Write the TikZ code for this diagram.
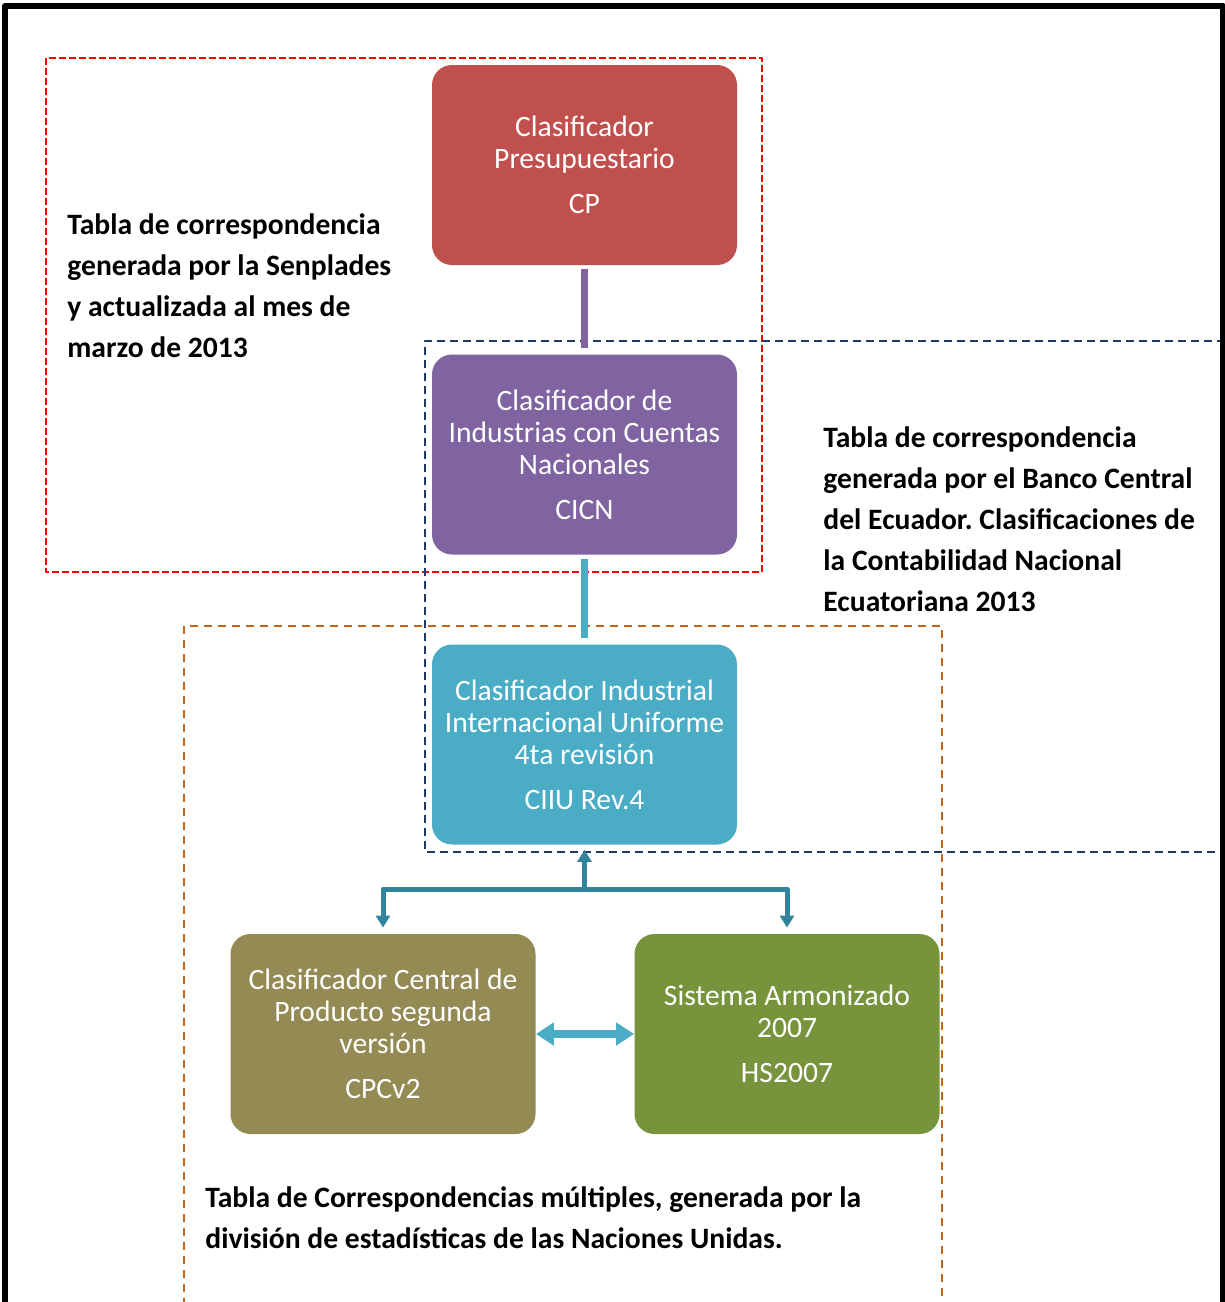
\documentclass[tikz,border=0pt]{standalone}
\usepackage{fontspec}
\setmainfont{Carlito}
\frenchspacing
\usetikzlibrary{arrows.meta}
\definecolor{cpred}{HTML}{C0504D}
\definecolor{cicnpurple}{HTML}{8064A2}
\definecolor{ciiucyan}{HTML}{4BACC6}
\definecolor{cpcolive}{HTML}{948A54}
\definecolor{hsgreen}{HTML}{77933C}
\definecolor{treeteal}{HTML}{31849B}
\definecolor{bcenavy}{HTML}{1F3864}
\definecolor{onubrown}{HTML}{C0651E}
\begin{document}
\begin{tikzpicture}[x=0.5pt,y=-0.5pt,line join=round,
	box/.style={rounded corners=10pt,minimum width=152.5pt,minimum height=100pt,
		text=white,align=center,font=\fontsize{14.8}{16}\selectfont},
	lbl/.style={anchor=north west,inner sep=0pt,align=left,
		font=\fontsize{14.8}{20.5}\selectfont\bfseries},
	tree/.style={treeteal,line width=2.5pt,-{Triangle[width=7pt,length=6pt]}}]
	\useasboundingbox (0,0) rectangle (1225,1302);
	% dashed groups
	\draw[red,line width=1pt,dash pattern=on 3.5pt off 1.5pt] (46,58) rectangle (762,572);
	\draw[bcenavy,line width=1pt,dash pattern=on 4pt off 2.5pt] (1225,341) -| (425,852) -- (1225,852);
	\draw[onubrown,line width=0.8pt,dash pattern=on 4pt off 3pt] (184,1320) |- (942,626) -- (942,1320);
	% classifiers
	\node[box,fill=cpred] (cp) at (584.5,165) {Clasificador\\Presupuestario\\[6.5pt]CP};
	\node[box,fill=cicnpurple] (cicn) at (584.5,454.5) {Clasificador de\\Industrias con Cuentas\\Nacionales\\[6.5pt]CICN};
	\node[box,fill=ciiucyan] (ciiu) at (584.5,744.5) {Clasificador Industrial\\Internacional Uniforme\\4ta revisión\\[6.5pt]CIIU Rev.4};
	\node[box,fill=cpcolive] (cpc) at (383,1034) {Clasificador Central de\\Producto segunda\\versión\\[6.5pt]CPCv2};
	\node[box,fill=hsgreen] (hs) at (787,1034) {Sistema Armonizado\\2007\\[6.5pt]HS2007};
	% links
	\draw[cicnpurple,line width=3.5pt,shorten <=2pt,shorten >=3pt] (cp) -- (cicn);
	\draw[ciiucyan,line width=3.5pt,shorten <=2pt,shorten >=3pt] (cicn) -- (ciiu);
	\coordinate (fork) at (584.5,889);
	\draw[tree,shorten >=2.5pt] (fork) -- (ciiu);
	\draw[tree,shorten >=3pt] (fork) -| (cpc);
	\draw[tree,shorten >=3pt] (fork) -| (hs);
	\draw[ciiucyan,line width=4pt,{Triangle[width=11pt,length=9pt]}-{Triangle[width=11pt,length=9pt]}] (cpc) -- (hs);
	% texts
	\node[lbl] (senplades) at (67,213) {Tabla de correspondencia\\generada por la Senplades\\y actualizada al mes de\\marzo de 2013};
	\node[lbl] (bce) at (823,426) {Tabla de correspondencia\\generada por el Banco Central\\del Ecuador. Clasificaciones de\\la Contabilidad Nacional\\Ecuatoriana 2013};
	\node[lbl] (onu) at (205,1186) {Tabla de Correspondencias múltiples, generada por la\\división de estadísticas de las Naciones Unidas.};
	% frame
	\draw[line width=3pt] (5,1320) |- (1223,6) -- (1223,1320);
\end{tikzpicture}
\end{document}
